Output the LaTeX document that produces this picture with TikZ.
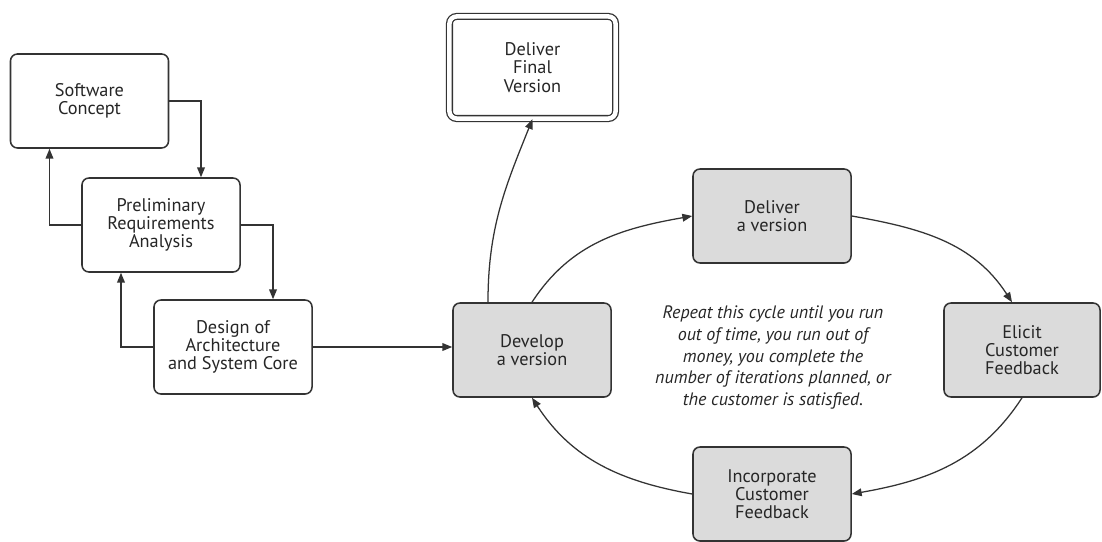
\documentclass[tikz,border=0pt]{standalone}
\usepackage{fontspec}
\setmainfont{PT Sans}
\usetikzlibrary{arrows.meta, positioning}

\begin{document}
\begin{tikzpicture}[
    x=0.025cm, y=0.025cm,
    box/.style={draw=black!80, rectangle, rounded corners=5pt, minimum width=3.95cm, minimum height=2.35cm, align=center, fill=white, text=black!85, font=\fontsize{13}{13}\selectfont, line width=1.1pt},
    iter/.style={box, fill=black!14},
    release/.style={box, double, double distance=3.2pt, line width=0.9pt, minimum width=4.15cm, minimum height=2.55cm},
    arrow/.style={-{Triangle[length=7pt, width=5.5pt]}, line width=0.9pt, draw=black!80},
    note/.style={align=center, text=black!85, font=\itshape\fontsize{12.8}{15.5}\selectfont}
]
\path[use as bounding box, fill=white] (0,0) rectangle (1102,541);

% Staged start (left column)
\node (concept) [box] at (89.5,440) {Software\\Concept};
\node (prelim) [box] at (161,316) {Preliminary\\Requirements\\Analysis};
\node (design) [box] at (233,194) {Design of\\Architecture\\and System Core};

% Iteration cycle
\node (develop) [iter] at (532,191) {Develop\\a version};
\node (deliver) [iter] at (772,325) {Deliver\\a version};
\node (elicit) [iter, minimum width=3.9cm] at (1022,191) {Elicit\\Customer\\Feedback};
\node (incorp) [iter] at (772,47) {Incorporate\\Customer\\Feedback};
\node (finalv) [release] at (532.5,473.5) {Deliver\\Final\\Version};

\node (cond) [note] at (773,183.5) {Repeat this cycle until you run\\out of time, you run out of\\money, you complete the\\number of iterations planned, or\\the customer is satisfied.};

% Paths
\draw [arrow] (concept.east) -| ([xshift=1cm]prelim.north);
\draw [arrow] (prelim.west) -| ([xshift=-1cm]concept.south);
\draw [arrow] (prelim.east) -| ([xshift=1cm]design.north);
\draw [arrow] (design.west) -| ([xshift=-1cm]prelim.south);
\draw [arrow] (design.east) -- (design.east -| develop.west);

\draw [arrow] ([xshift=-1.1cm]develop.north) to[out=90, in=-112] (finalv.south);
\draw [arrow] (develop.north) to[out=57, in=190] (deliver.west);
\draw [arrow] (deliver.east) to[out=-10, in=123] ([xshift=-0.25cm]elicit.north);
\draw [arrow] (elicit.south) to[out=-123, in=10] (incorp.east);
\draw [arrow] (incorp.west) to[out=170, in=-57] (develop.south);

\end{tikzpicture}
\end{document}
